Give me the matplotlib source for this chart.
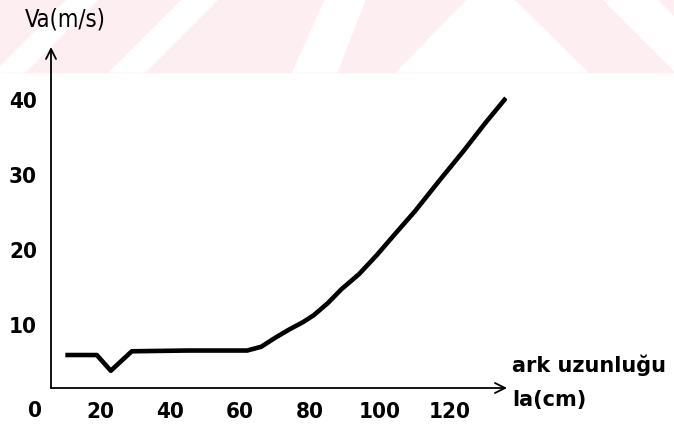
import matplotlib
matplotlib.use("Agg")
import matplotlib.pyplot as plt
from matplotlib.patches import Polygon, Rectangle

# arc length (cm) vs. arc velocity (m/s)
arc_length = [10, 19, 23, 29, 45, 62, 66, 70, 74, 78, 81, 85, 89, 94, 99,
              104, 110, 117, 124, 130, 136]
arc_speed = [6.0, 6.0, 3.9, 6.5, 6.6, 6.6, 7.1, 8.3, 9.4, 10.4, 11.3, 12.9,
             14.8, 16.8, 19.3, 22.0, 25.2, 29.3, 33.3, 36.9, 40.3]
x_ticks = [20, 40, 60, 80, 100, 120]
y_ticks = [10, 20, 30, 40]

W, H = 674, 425
fig = plt.figure(figsize=(W / 100, H / 100), dpi=100)


def px(x, y):
    return (x / W, 1 - y / H)


# faint pink watermark band at the top
fig.add_artist(Rectangle(px(0, 72), 1, 72 / H, transform=fig.transFigure,
                         color="#fdeef1", zorder=0))
white_bits = [
    [(-5, 72), (25, 72), (97, 0), (67, 0)],
    [(110, 72), (145, 72), (217, 0), (182, 0)],
    [(293, 72), (337, 72), (365, 0), (325, 0)],
    [(397, 72), (587, 72), (514, 0), (467, 0)],
    [(676, 72), (729, 72), (657, 0), (604, 0)],
]
for pts in white_bits:
    fig.add_artist(Polygon([px(*p) for p in pts], closed=True,
                           transform=fig.transFigure, color="white", zorder=0))

# axes box: left edge at pixel 51, bottom at 388, right 507, top 47
ax = fig.add_axes([51 / W, 1 - 388 / H, (507 - 51) / W, (388 - 47) / H])
ax.patch.set_alpha(0)
ax.set_xlim(5.9, 136.3)
ax.set_ylim(1.6, 47.1)

ax.plot(arc_length, arc_speed, color="black", lw=3.3, solid_capstyle="butt",
        solid_joinstyle="round")

for s in ax.spines.values():
    s.set_visible(False)
ax.annotate("", xy=(0, 1), xytext=(0, 0), xycoords="axes fraction",
            arrowprops=dict(arrowstyle="->", lw=1.3, color="black",
                            mutation_scale=18, shrinkA=0, shrinkB=0))
ax.annotate("", xy=(1, 0), xytext=(0, 0), xycoords="axes fraction",
            arrowprops=dict(arrowstyle="->", lw=1.3, color="black",
                            mutation_scale=18, shrinkA=0, shrinkB=0))

tick_font = dict(family="DejaVu Sans", stretch="condensed", weight="bold", size=16)
ax.set_xticks(x_ticks)
ax.set_xticklabels([str(t) for t in x_ticks], **tick_font)
ax.set_yticks(y_ticks)
ax.set_yticklabels([str(t) for t in y_ticks], **tick_font)
ax.tick_params(length=0)
ax.tick_params(axis="x", pad=10)
ax.tick_params(axis="y", pad=10)

# the lone "0" under the origin
fig.text(35 / W, 1 - 411 / H, "0", ha="center", va="center", **tick_font)

fig.text(25 / W, 1 - 20 / H, "Va(m/s)", ha="left", va="center",
         family="DejaVu Sans", stretch="condensed", size=17)
fig.text(512 / W, 1 - 365 / H, "ark uzunluğu", ha="left", va="center",
         family="DejaVu Sans", weight="bold", size=15)
fig.text(512 / W, 1 - 400 / H, "la(cm)", ha="left", va="center",
         family="DejaVu Sans", weight="bold", size=15)

fig.savefig("out.png", dpi=100)
